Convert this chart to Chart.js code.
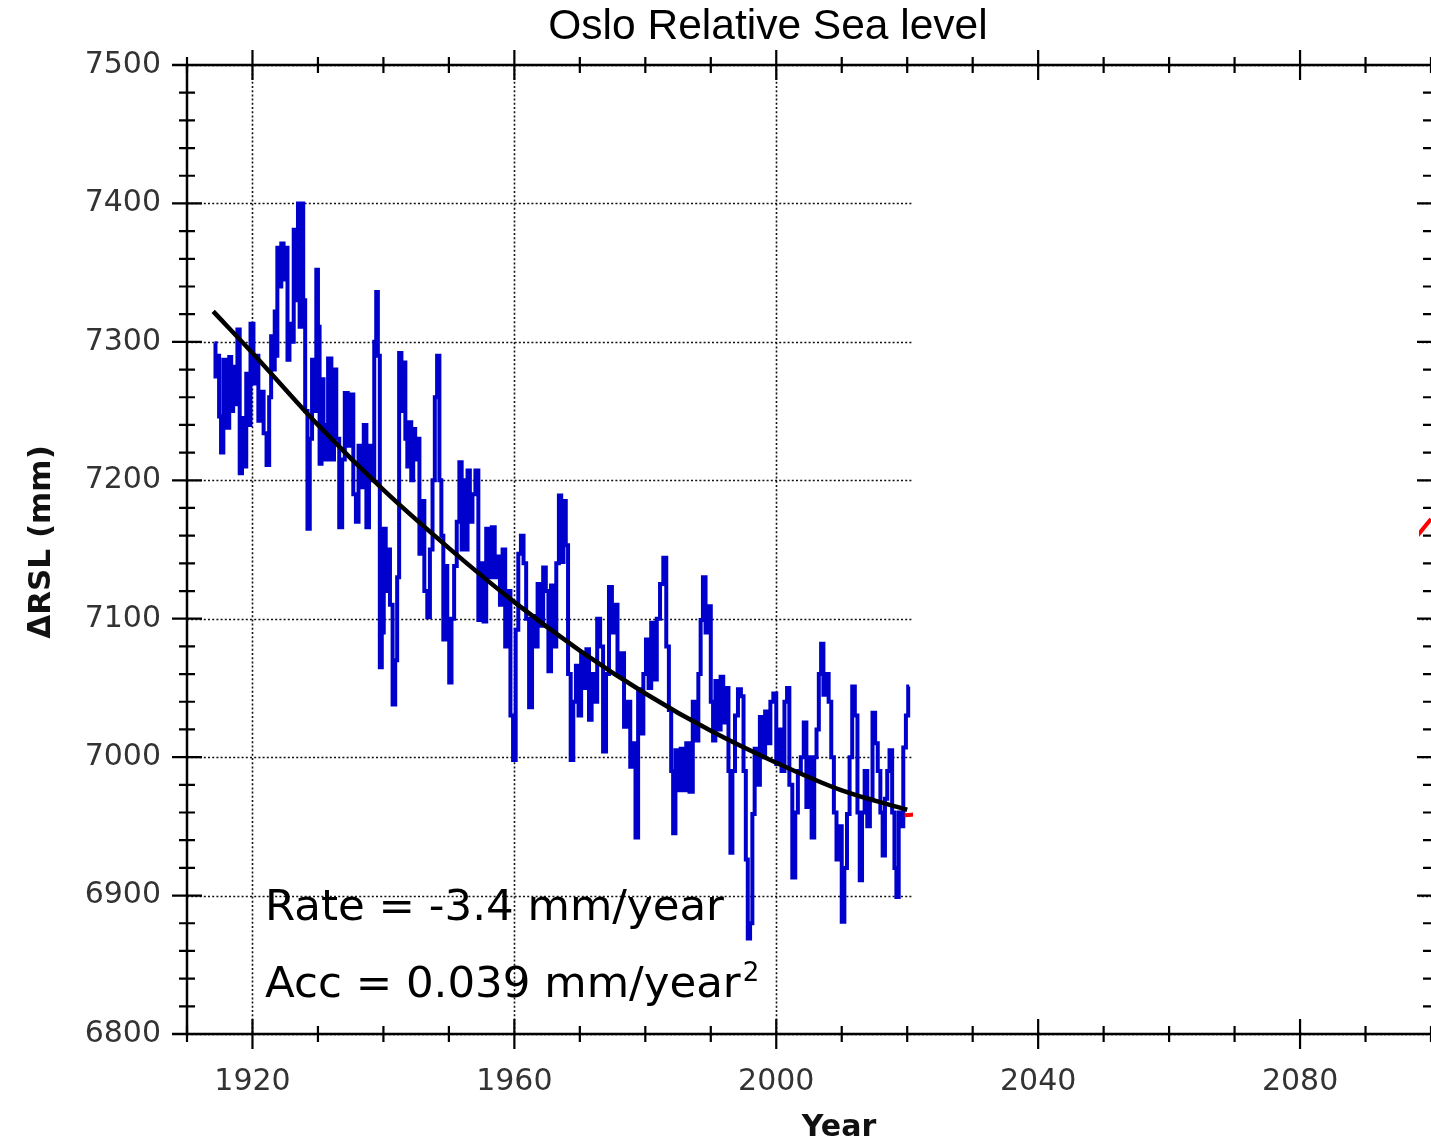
<!DOCTYPE html>
<html>
<head>
<meta charset="utf-8">
<title>Oslo Relative Sea level</title>
<script src="https://cdn.jsdelivr.net/npm/chart.js@4.4.1/dist/chart.umd.min.js"></script>
<style>
  html, body { margin: 0; padding: 0; background: #fff; }
  #wrap { position: relative; width: 1431px; height: 1142px; }
</style>
</head>
<body>
<div id="wrap"><canvas id="seaChart"></canvas></div>
<script>
// monthly-ish relative sea level trace (turning points)
const blueYears = [
  1914.2, 1914.5, 1914.8, 1915.0, 1915.4, 1915.7, 1916.0, 1916.3, 1916.6, 1916.9,
  1917.2, 1917.5, 1917.9, 1918.2, 1918.6, 1918.9, 1919.2, 1919.5, 1919.9, 1920.4,
  1920.7, 1921.1, 1921.5, 1921.9, 1922.4, 1922.7, 1923.0, 1923.3, 1923.5, 1923.7,
  1923.9, 1924.2, 1924.6, 1924.9, 1925.2, 1925.5, 1925.8, 1926.1, 1926.5, 1926.8,
  1927.1, 1927.3, 1927.6, 1927.9, 1928.2, 1928.6, 1928.9, 1929.3, 1929.6, 1929.9,
  1930.1, 1930.4, 1930.7, 1931.0, 1931.3, 1931.8, 1932.3, 1932.6, 1933.0, 1933.5,
  1933.9, 1934.3, 1934.8, 1935.2, 1935.6, 1936.0, 1936.4, 1936.8, 1937.2, 1937.6,
  1938.0, 1938.4, 1938.8, 1939.0, 1939.3, 1939.6, 1939.9, 1940.2, 1940.5, 1940.8,
  1941.2, 1941.6, 1942.0, 1942.2, 1942.6, 1942.9, 1943.2, 1943.5, 1943.8, 1944.1,
  1944.4, 1944.7, 1945.0, 1945.3, 1945.7, 1946.0, 1946.5, 1946.9, 1947.3, 1947.7,
  1948.0, 1948.4, 1948.7, 1949.0, 1949.3, 1949.6, 1949.9, 1950.2, 1950.6, 1951.0,
  1951.4, 1951.8, 1952.1, 1952.4, 1952.7, 1953.0, 1953.4, 1953.8, 1954.3, 1954.7,
  1955.1, 1955.5, 1955.9, 1956.3, 1956.8, 1957.2, 1957.6, 1958.0, 1958.4, 1958.8,
  1959.2, 1959.6, 1960.0, 1960.4, 1960.8, 1961.2, 1961.6, 1962.0, 1962.5, 1962.9,
  1963.3, 1963.8, 1964.2, 1964.6, 1965.0, 1965.4, 1965.8, 1966.2, 1966.6, 1967.0,
  1967.3, 1967.7, 1968.0, 1968.4, 1968.8, 1969.2, 1969.6, 1970.0, 1970.4, 1970.8,
  1971.2, 1971.6, 1972.0, 1972.4, 1972.9, 1973.3, 1973.8, 1974.2, 1974.7, 1975.1,
  1975.5, 1976.0, 1976.5, 1977.0, 1977.5, 1977.9, 1978.3, 1978.7, 1979.1, 1979.5,
  1979.9, 1980.3, 1980.7, 1981.1, 1981.5, 1982.0, 1982.5, 1983.0, 1983.4, 1983.8,
  1984.1, 1984.4, 1984.8, 1985.2, 1985.6, 1986.0, 1986.5, 1987.0, 1987.5, 1987.9,
  1988.3, 1988.6, 1989.0, 1989.4, 1989.8, 1990.2, 1990.5, 1990.9, 1991.3, 1991.7,
  1992.1, 1992.5, 1992.9, 1993.1, 1993.5, 1993.9, 1994.4, 1994.8, 1995.2, 1995.5,
  1995.8, 1996.2, 1996.5, 1996.9, 1997.3, 1997.7, 1998.1, 1998.5, 1998.9, 1999.3,
  1999.8, 2000.2, 2000.6, 2001.0, 2001.5, 2001.8, 2002.2, 2002.7, 2003.1, 2003.5,
  2004.0, 2004.4, 2004.8, 2005.2, 2005.6, 2006.0, 2006.3, 2006.7, 2007.0, 2007.4,
  2007.8, 2008.2, 2008.6, 2009.0, 2009.4, 2009.8, 2010.2, 2010.6, 2011.0, 2011.4,
  2011.8, 2012.2, 2012.6, 2012.9, 2013.3, 2013.7, 2014.1, 2014.5, 2014.9, 2015.3,
  2015.7, 2016.1, 2016.4, 2016.8, 2017.1, 2017.5, 2017.9, 2018.2, 2018.5, 2018.9,
  2019.2, 2019.6, 2020.0, 2020.3
];
const blueLevel = [
  7299, 7275, 7290, 7246, 7220, 7287, 7262, 7238, 7289, 7250,
  7282, 7255, 7309, 7205, 7245, 7210, 7277, 7240, 7313, 7270,
  7290, 7243, 7264, 7234, 7211, 7260, 7304, 7280, 7322, 7290,
  7368, 7340, 7371, 7345, 7368, 7287, 7313, 7300, 7381, 7330,
  7400, 7311, 7400, 7330, 7250, 7165, 7230, 7287, 7250, 7352,
  7311, 7212, 7273, 7240, 7215, 7288, 7215, 7280, 7230, 7166,
  7215, 7263, 7225, 7262, 7190, 7170, 7225, 7195, 7240, 7166,
  7225, 7200, 7300, 7336, 7290, 7065, 7090, 7165, 7120, 7150,
  7110, 7038, 7070, 7130, 7292, 7250, 7285, 7230, 7210, 7242,
  7200, 7237, 7215, 7230, 7147, 7185, 7120, 7101, 7150, 7200,
  7260, 7290, 7200, 7160, 7085, 7138, 7100, 7054, 7100, 7138,
  7170, 7213, 7150, 7200, 7150, 7207, 7170, 7190, 7207, 7099,
  7140, 7098, 7165, 7130, 7166, 7130, 7145, 7110, 7150, 7080,
  7120, 7030, 6998, 7092, 7147, 7160, 7140, 7100, 7036, 7102,
  7080, 7125, 7095, 7137, 7120, 7062, 7124, 7080, 7140, 7189,
  7141, 7185, 7153, 7060, 6998, 7040, 7066, 7030, 7075, 7050,
  7078, 7027, 7060, 7040, 7100, 7080, 7004, 7060, 7123, 7090,
  7110, 7060, 7075, 7022, 7040, 6993, 7010, 6942, 7049, 7017,
  7060, 7085, 7050, 7097, 7056, 7100, 7125, 7144, 7080, 7034,
  6990, 6945, 7005, 6976, 7006, 6976, 7010, 6975, 7040, 7012,
  7060, 7099, 7130, 7090, 7109, 7040, 7012, 7055, 7020, 7058,
  7025, 7050, 6990, 6931, 6990, 7030, 7049, 7044, 6990, 6926,
  6869, 6880, 6959, 7006, 6980, 7029, 7000, 7033, 7010, 7040,
  7046, 6995, 7020, 6990, 7040, 7050, 6980, 6913, 6960, 6990,
  7000, 7025, 6964, 7000, 6942, 7000, 7020, 7060, 7082, 7045,
  7060, 7040, 7000, 6960, 6926, 6950, 6881, 6920, 6959, 7000,
  7051, 7030, 6960, 6911, 6960, 6990, 6950, 6970, 7032, 7010,
  6990, 6960, 6929, 6970, 6990, 7005, 6960, 6920, 6899, 6960,
  6950, 7007, 7030, 7051
];

// quadratic fit (black)
const fitYears = [1914, 1920, 1930, 1940, 1950, 1960, 1970, 1980, 1990, 2000, 2010, 2020];
const fitLevel = [7322, 7292, 7240, 7193, 7151, 7112, 7077, 7046, 7019, 6996, 6976, 6962];

// projection (red), mostly hidden behind the blank panel
const projYears = [2019.6, 2030, 2040, 2050, 2060, 2070, 2080, 2090, 2100];
const projLevel = [6958, 6962, 6968, 6980, 7000, 7030, 7068, 7115, 7172];

const xTicks = [1920, 1960, 2000, 2040, 2080];
const yTicks = [6800, 6900, 7000, 7100, 7200, 7300, 7400, 7500];

const toPoints = (xs, ys) => xs.map((x, i) => ({ x, y: ys[i] }));

const frame = {
  id: "frame",
  beforeDatasetsDraw(chart) {
    const { ctx, chartArea: a, scales } = chart;
    ctx.save();
    ctx.strokeStyle = "#111";
    ctx.lineWidth = 1.6;
    ctx.setLineDash([2, 2.2]);
    xTicks.forEach((v) => {
      const px = Math.round(scales.x.getPixelForValue(v)) + 0.5;
      ctx.beginPath();
      ctx.moveTo(px, a.top);
      ctx.lineTo(px, a.bottom);
      ctx.stroke();
    });
    yTicks.forEach((v) => {
      const py = Math.round(scales.y.getPixelForValue(v)) + 0.5;
      ctx.beginPath();
      ctx.moveTo(a.left, py);
      ctx.lineTo(a.right, py);
      ctx.stroke();
    });
    ctx.restore();
  },
  afterDatasetsDraw(chart) {
    const { ctx, chartArea: a, scales } = chart;
    const sx = scales.x;
    const sy = scales.y;
    ctx.save();

    // blank panel over the right part of the plot
    ctx.fillStyle = "#fff";
    ctx.fillRect(913, a.top + 2, 1419 - 913, a.bottom - a.top - 4);

    // axis lines
    ctx.strokeStyle = "#000";
    ctx.lineWidth = 2.5;
    ctx.beginPath();
    ctx.moveTo(a.left - 15, a.top);
    ctx.lineTo(chart.width, a.top);
    ctx.moveTo(a.left - 15, a.bottom);
    ctx.lineTo(chart.width, a.bottom);
    ctx.moveTo(a.left, a.top);
    ctx.lineTo(a.left, a.bottom);
    ctx.stroke();

    // x ticks, top and bottom, crossing the axis
    ctx.lineWidth = 2.2;
    for (let yr = 1910; yr <= 2100; yr += 10) {
      const px = sx.getPixelForValue(yr);
      const len = xTicks.includes(yr) ? 15 : 8;
      ctx.beginPath();
      ctx.moveTo(px, a.top - len);
      ctx.lineTo(px, a.top + len);
      ctx.moveTo(px, a.bottom - len);
      ctx.lineTo(px, a.bottom + len);
      ctx.stroke();
    }

    // y ticks: crossing on the left, inward on the right
    for (let lv = 6800; lv <= 7500; lv += 20) {
      const py = sy.getPixelForValue(lv);
      const major = lv % 100 === 0;
      const len = major ? 15 : 8;
      ctx.beginPath();
      ctx.moveTo(a.left - len, py);
      ctx.lineTo(a.left + len, py);
      ctx.moveTo(a.right - (major ? 14 : 8), py);
      ctx.lineTo(a.right, py);
      ctx.stroke();
    }

    // titles and annotation
    ctx.fillStyle = "#000";
    ctx.textAlign = "center";
    ctx.textBaseline = "alphabetic";
    ctx.font = "42.5px 'Liberation Sans', Arial, sans-serif";
    ctx.fillText("Oslo Relative Sea level", 768, 39);

    ctx.fillStyle = "#111";
    ctx.font = "bold 30px 'DejaVu Sans', sans-serif";
    ctx.fillText("Year", 839, 1136);

    ctx.save();
    ctx.translate(50, 542);
    ctx.rotate(-Math.PI / 2);
    ctx.font = "bold 31px 'DejaVu Sans', sans-serif";
    ctx.fillText("\u0394RSL (mm)", 0, 0);
    ctx.restore();

    ctx.fillStyle = "#000";
    ctx.textAlign = "left";
    ctx.font = "43.5px 'DejaVu Sans', sans-serif";
    ctx.fillText("Rate = -3.4 mm/year", 265, 920);
    const accText = "Acc = 0.039 mm/year";
    ctx.fillText(accText, 265, 997);
    const w = ctx.measureText(accText).width;
    ctx.font = "26px 'DejaVu Sans', sans-serif";
    ctx.fillText("2", 265 + w + 2, 981);

    ctx.restore();
  }
};

new Chart(document.getElementById("seaChart"), {
  type: "line",
  data: {
    datasets: [
      {
        label: "Fit",
        data: toPoints(fitYears, fitLevel),
        borderColor: "#000",
        borderWidth: 4.5,
        pointRadius: 0,
        cubicInterpolationMode: "monotone",
        order: 1,
      },
      {
        label: "Projection",
        data: toPoints(projYears, projLevel),
        borderColor: "#ff0000",
        borderWidth: 4,
        pointRadius: 0,
        cubicInterpolationMode: "monotone",
        order: 2,
      },
      {
        label: "Oslo",
        data: toPoints(blueYears, blueLevel),
        borderColor: "#0000cd",
        borderWidth: 4,
        borderJoinStyle: "miter",
        pointRadius: 0,
        stepped: "middle",
        order: 3,
      },
    ],
  },
  options: {
    responsive: true,
    maintainAspectRatio: false,
    animation: false,
    devicePixelRatio: 1,
    layout: { padding: { top: 65, left: 0, right: 0, bottom: 0 } },
    plugins: {
      legend: { display: false },
      tooltip: { enabled: false },
      title: { display: false },
    },
    scales: {
      x: {
        type: "linear",
        min: 1910,
        max: 2100,
        afterBuildTicks: (s) => {
          s.ticks = xTicks.map((v) => ({ value: v }));
        },
        afterFit: (s) => {
          s.height = 108;
        },
        grid: { display: false, drawTicks: false },
        border: { display: false },
        ticks: {
          padding: 30,
          color: "#333",
          maxRotation: 0,
          font: { family: "'DejaVu Sans', sans-serif", size: 30 },
          callback: (v) => String(v),
        },
      },
      y: {
        type: "linear",
        min: 6800,
        max: 7500,
        afterBuildTicks: (s) => {
          s.ticks = yTicks.map((v) => ({ value: v }));
        },
        afterFit: (s) => {
          s.width = 187;
        },
        grid: { display: false, drawTicks: false },
        border: { display: false },
        ticks: {
          padding: 26,
          color: "#333",
          font: { family: "'DejaVu Sans', sans-serif", size: 30 },
          callback: (v) => String(v),
        },
      },
    },
  },
  plugins: [frame],
});
</script>
</body>
</html>
